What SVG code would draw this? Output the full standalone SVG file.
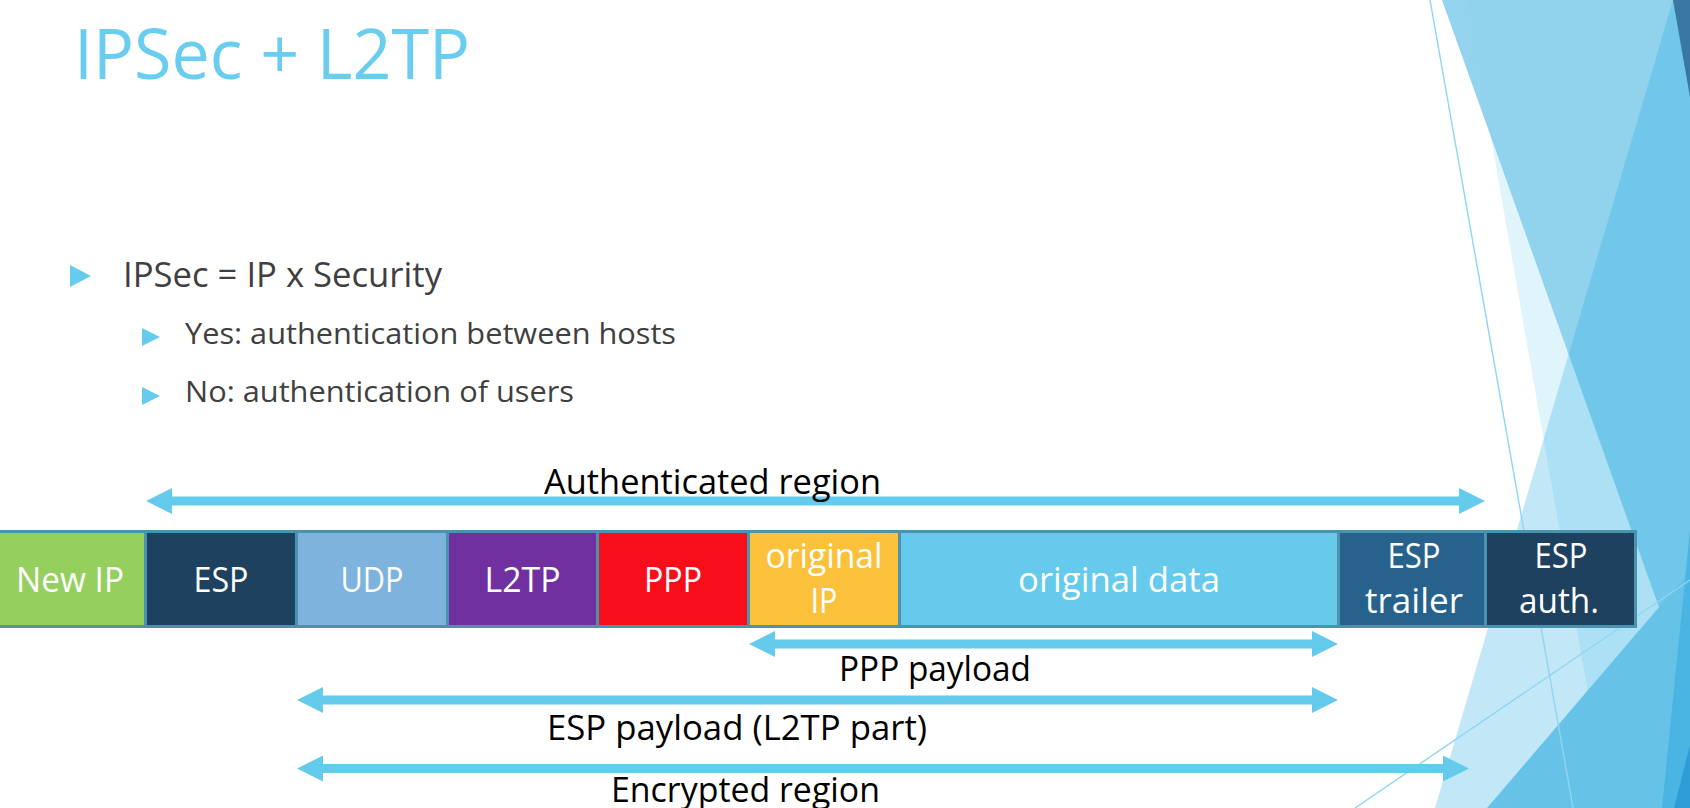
<svg xmlns="http://www.w3.org/2000/svg" width="1690" height="808" viewBox="0 0 1690 808">
  <defs>
    <style>
      .title { font-family: "Open Sans", "Noto Sans", sans-serif; font-size: 70px; fill: #68CDEE; }
      .b1 { font-family: "Open Sans", "Noto Sans", sans-serif; font-size: 34px; fill: #404040; }
      .b2 { font-family: "Open Sans", "Noto Sans", sans-serif; font-size: 29px; fill: #404040; }
      .bullet { fill: #66CCEE; }
      .cell rect { stroke: #4A93AE; stroke-width: 3; }
      .cell text { font-family: "Open Sans", "Noto Sans", sans-serif; font-size: 34px; fill: #FFFFFF; text-anchor: middle; }
      .lbl { font-family: "Open Sans", "Noto Sans", sans-serif; font-size: 34px; fill: #000000; }
      .arrow { stroke: #65CBEC; stroke-width: 9; marker-start: url(#head); marker-end: url(#head); }
      .deco-line { fill: none; stroke: #8ED6F1; stroke-width: 1.4; }
    </style>
    <marker id="head" markerUnits="userSpaceOnUse" markerWidth="26" markerHeight="26" viewBox="0 0 26 26" refX="1" refY="13" orient="auto-start-reverse">
      <path d="M0,0 L26,13 L0,26 Z" fill="#65CBEC"/>
    </marker>
  </defs>

  <rect x="0" y="0" width="1690" height="808" fill="#FFFFFF"/>

  <!-- decorative facets on the right edge -->
  <g id="facets">
    <polygon points="1467,0 1690,0 1690,808 1608,808" fill="#66C8EE" opacity="0.2"/>
    <polygon points="1442,0 1690,0 1690,694" fill="#88CEEB" opacity="0.9"/>
    <polygon points="1673,0 1690,0 1690,808 1435,808" fill="#1EAAE1" opacity="0.27"/>
    <polygon points="1673,0 1690,0 1690,97" fill="#3A77A3"/>
    <polygon points="1487,808 1690,571 1690,808" fill="#66C3E7"/>
    <polygon points="1690,530 1690,808 1662,808" fill="#4AB5E2"/>
    <polygon points="1690,745 1690,808 1674,808" fill="#2E9DD7"/>
    <line class="deco-line" x1="1430" y1="0" x2="1573" y2="808"/>
    <line class="deco-line" x1="1355" y1="808" x2="1690" y2="580"/>
  </g>

  <!-- heading and bullet list -->
  <g id="title">
    <text class="title" x="74" y="79" textLength="396" lengthAdjust="spacingAndGlyphs">IPSec + L2TP</text>
  </g>
  <g id="bullets">
    <polygon class="bullet" points="70,265 70,287 91,276"/>
    <text class="b1" x="123" y="287" textLength="319" lengthAdjust="spacingAndGlyphs">IPSec = IP x Security</text>
    <polygon class="bullet" points="142,328 142,346 160,337"/>
    <text class="b2" x="185" y="343.5" textLength="491" lengthAdjust="spacingAndGlyphs">Yes: authentication between hosts</text>
    <polygon class="bullet" points="142,387 142,405 160,396"/>
    <text class="b2" x="185" y="402" textLength="389" lengthAdjust="spacingAndGlyphs">No: authentication of users</text>
  </g>

  <!-- packet layout: one cell per header / field -->
  <g id="cell-new-ip" class="cell">
    <rect x="-4.5" y="531.5" width="150" height="95" fill="#95CF5E"/>
    <text x="70" y="592" textLength="108" lengthAdjust="spacingAndGlyphs">New IP</text>
  </g>
  <g id="cell-esp" class="cell">
    <rect x="145.5" y="531.5" width="151" height="95" fill="#1D415E"/>
    <text x="221" y="592" textLength="55" lengthAdjust="spacingAndGlyphs">ESP</text>
  </g>
  <g id="cell-udp" class="cell">
    <rect x="296.5" y="531.5" width="151" height="95" fill="#7EB3DD"/>
    <text x="372" y="592" textLength="63" lengthAdjust="spacingAndGlyphs">UDP</text>
  </g>
  <g id="cell-l2tp" class="cell">
    <rect x="447.5" y="531.5" width="150" height="95" fill="#7030A0"/>
    <text x="522.5" y="592" textLength="76" lengthAdjust="spacingAndGlyphs">L2TP</text>
  </g>
  <g id="cell-ppp" class="cell">
    <rect x="597.5" y="531.5" width="151" height="95" fill="#F80E1B"/>
    <text x="673" y="592" textLength="58" lengthAdjust="spacingAndGlyphs">PPP</text>
  </g>
  <g id="cell-original-ip" class="cell">
    <rect x="748.5" y="531.5" width="151" height="95" fill="#FCC13B"/>
    <text x="824" y="568" textLength="117" lengthAdjust="spacingAndGlyphs">original</text>
    <text x="824" y="613" textLength="27" lengthAdjust="spacingAndGlyphs">IP</text>
  </g>
  <g id="cell-original-data" class="cell">
    <rect x="899.5" y="531.5" width="439" height="95" fill="#65CAEB"/>
    <text x="1119" y="592" textLength="202" lengthAdjust="spacingAndGlyphs">original data</text>
  </g>
  <g id="cell-esp-trailer" class="cell">
    <rect x="1338.5" y="531.5" width="147" height="95" fill="#27628D"/>
    <text x="1414" y="568" textLength="53" lengthAdjust="spacingAndGlyphs">ESP</text>
    <text x="1414" y="613" textLength="98" lengthAdjust="spacingAndGlyphs">trailer</text>
  </g>
  <g id="cell-esp-auth" class="cell">
    <rect x="1485.5" y="531.5" width="150" height="95" fill="#1D415E"/>
    <text x="1561" y="568" textLength="53" lengthAdjust="spacingAndGlyphs">ESP</text>
    <text x="1559" y="613" textLength="80" lengthAdjust="spacingAndGlyphs">auth.</text>
  </g>

  <!-- span arrows -->
  <g id="connectors">
    <line class="arrow" x1="171" y1="501" x2="1460" y2="501"/>
    <line class="arrow" x1="774" y1="644" x2="1313" y2="644"/>
    <line class="arrow" x1="322" y1="700" x2="1313" y2="700"/>
    <line class="arrow" x1="322" y1="768.5" x2="1444" y2="768.5"/>
  </g>

  <!-- span labels -->
  <g id="span-labels">
    <text class="lbl" x="544" y="494" textLength="337" lengthAdjust="spacingAndGlyphs">Authenticated region</text>
    <text class="lbl" x="839" y="681" textLength="192" lengthAdjust="spacingAndGlyphs">PPP payload</text>
    <text class="lbl" x="547" y="739.5" textLength="380" lengthAdjust="spacingAndGlyphs">ESP payload (L2TP part)</text>
    <text class="lbl" x="611" y="802" textLength="269" lengthAdjust="spacingAndGlyphs">Encrypted region</text>
  </g>
</svg>
